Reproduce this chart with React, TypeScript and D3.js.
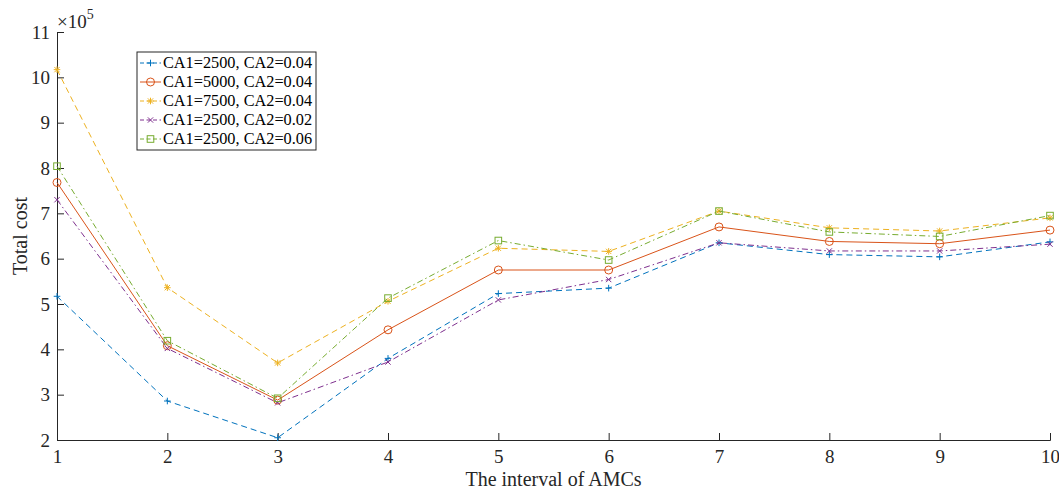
import React, { useEffect, useRef } from "react"
import * as d3 from "d3"

// interval values on the x axis
const intervals = [1, 2, 3, 4, 5, 6, 7, 8, 9, 10]
const yTicks = [2, 3, 4, 5, 6, 7, 8, 9, 10, 11]

// total cost, in units of 1e5
const ca2500_004 = [5.17, 2.86, 2.05, 3.8, 5.23, 5.35, 6.35, 6.09, 6.04, 6.37]
const ca5000_004 = [7.68, 4.08, 2.88, 4.43, 5.75, 5.75, 6.7, 6.38, 6.33, 6.63]
const ca7500_004 = [10.17, 5.36, 3.7, 5.06, 6.23, 6.16, 7.05, 6.68, 6.61, 6.9]
const ca2500_002 = [7.3, 4.02, 2.82, 3.72, 5.09, 5.54, 6.35, 6.17, 6.17, 6.32]
const ca2500_006 = [8.04, 4.19, 2.92, 5.13, 6.4, 5.97, 7.05, 6.59, 6.49, 6.95]

const seriesNames = [
  "CA1=2500, CA2=0.04",
  "CA1=5000, CA2=0.04",
  "CA1=7500, CA2=0.04",
  "CA1=2500, CA2=0.02",
  "CA1=2500, CA2=0.06",
]

export default function App() {
  const ref = useRef<SVGSVGElement>(null)

  useEffect(() => {
    const svg = d3.select(ref.current)
    svg.selectAll("*").remove()

    const margin = { top: 32, right: 9, bottom: 50, left: 57 }
    const width = 1059 - margin.left - margin.right
    const height = 490 - margin.top - margin.bottom
    const font = "'Liberation Serif', 'Times New Roman', serif"

    const series = [
      { name: seriesNames[0], values: ca2500_004, color: "#0072BD", dash: "6,4", marker: "plus" },
      { name: seriesNames[1], values: ca5000_004, color: "#D95319", dash: null, marker: "circle" },
      { name: seriesNames[2], values: ca7500_004, color: "#EDB120", dash: "6,4", marker: "star" },
      { name: seriesNames[3], values: ca2500_002, color: "#7E2F8E", dash: "6,3,1.5,3", marker: "x" },
      { name: seriesNames[4], values: ca2500_006, color: "#77AC30", dash: "6,3,1.5,3", marker: "square" },
    ]

    const g = svg.append("g").attr("transform", "translate(" + margin.left + "," + margin.top + ")")

    const x = d3.scaleLinear().domain([1, 10]).range([0, width])
    const y = d3.scaleLinear().domain([2, 11]).range([height, 0])

    const axisColor = "#262626"

    const xAxis = g.append("g")
      .attr("transform", "translate(0," + height + ")")
      .call(d3.axisBottom(x).tickValues(intervals).tickSize(-7).tickPadding(10).tickFormat(d3.format("d")))
    const yAxis = g.append("g")
      .call(d3.axisLeft(y).tickValues(yTicks).tickSize(-7).tickPadding(7).tickFormat(d3.format("d")))

    for (const a of [xAxis, yAxis]) {
      a.select(".domain").attr("stroke", axisColor).attr("stroke-width", 1)
      a.selectAll(".tick line").attr("stroke", axisColor)
      a.selectAll(".tick text")
        .attr("fill", axisColor)
        .style("font-family", font)
        .style("font-size", "19px")
    }

    // exponent label
    const ex = g.append("text")
      .attr("x", 0)
      .attr("y", -4)
      .attr("fill", axisColor)
      .style("font-family", font)
      .style("font-size", "19px")
    ex.append("tspan").text("\u00d710")
    ex.append("tspan").attr("dy", -9).style("font-size", "14px").text("5")

    g.append("text")
      .attr("transform", "translate(-30," + height / 2 + ") rotate(-90)")
      .attr("text-anchor", "middle")
      .attr("fill", axisColor)
      .style("font-family", font)
      .style("font-size", "20px")
      .text("Total cost")

    g.append("text")
      .attr("x", width / 2)
      .attr("y", height + 46)
      .attr("text-anchor", "middle")
      .attr("fill", axisColor)
      .style("font-family", font)
      .style("font-size", "20px")
      .text("The interval of AMCs")

    const line = d3.line<number>()
      .x((d, i) => x(intervals[i]))
      .y(d => y(d))

    const drawMarker = (sel: any, kind: string, color: string, cx: number, cy: number) => {
      const s = 3.3
      if (kind === "circle") {
        sel.append("circle").attr("cx", cx).attr("cy", cy).attr("r", 4)
          .attr("fill", "none").attr("stroke", color).attr("stroke-width", 1)
      } else if (kind === "square") {
        sel.append("rect").attr("x", cx - s).attr("y", cy - s).attr("width", 2 * s).attr("height", 2 * s)
          .attr("fill", "none").attr("stroke", color).attr("stroke-width", 1)
      } else {
        let p = ""
        if (kind === "plus" || kind === "star") p += `M${cx - s},${cy}H${cx + s}M${cx},${cy - s}V${cy + s}`
        if (kind === "x" || kind === "star") p += `M${cx - s * 0.8},${cy - s * 0.8}L${cx + s * 0.8},${cy + s * 0.8}M${cx - s * 0.8},${cy + s * 0.8}L${cx + s * 0.8},${cy - s * 0.8}`
        sel.append("path").attr("d", p).attr("fill", "none").attr("stroke", color).attr("stroke-width", 1)
      }
    }

    series.forEach(s => {
      g.append("path")
        .datum(s.values)
        .attr("fill", "none")
        .attr("stroke", s.color)
        .attr("stroke-width", 1)
        .attr("stroke-dasharray", s.dash)
        .attr("d", line)
      const mg = g.append("g")
      s.values.forEach((v, i) => drawMarker(mg, s.marker, s.color, x(intervals[i]), y(v)))
    })

    // legend
    const lg = svg.append("g").attr("transform", "translate(137,52)")
    lg.append("rect")
      .attr("width", 179)
      .attr("height", 98)
      .attr("fill", "white")
      .attr("stroke", axisColor)
      .attr("stroke-width", 1)
    series.forEach((s, i) => {
      const yy = 11 + i * 19
      lg.append("line")
        .attr("x1", 3).attr("x2", 24).attr("y1", yy).attr("y2", yy)
        .attr("stroke", s.color)
        .attr("stroke-dasharray", s.dash ? "4,2.5" : null)
      drawMarker(lg, s.marker, s.color, 13.5, yy)
      lg.append("text")
        .attr("x", 26)
        .attr("y", yy + 5)
        .attr("fill", "#000")
        .style("font-family", font)
        .style("font-size", "16.3px")
        .text(s.name)
    })
  }, [])

  return (
    <svg ref={ref} width={1059} height={490} style={{ display: "block", position: "absolute", left: 0, top: 0 }} />
  )
}
